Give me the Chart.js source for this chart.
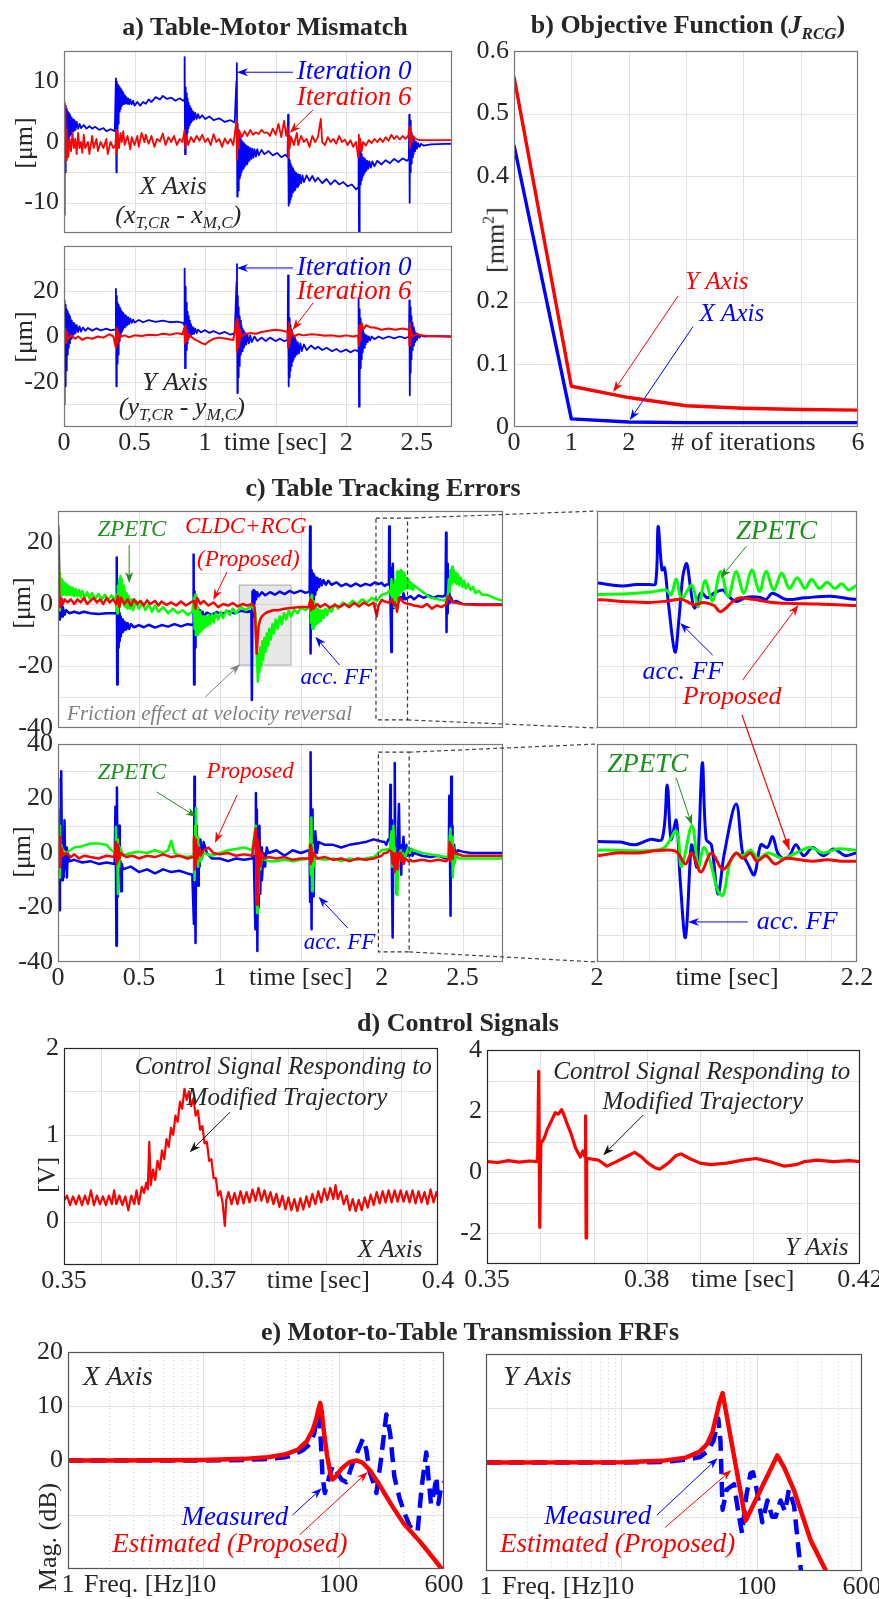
<!DOCTYPE html>
<html>
<head>
<meta charset="utf-8">
<script src="https://cdn.jsdelivr.net/npm/chart.js@4.4.0/dist/chart.umd.min.js"></script>
<style>
body { margin: 0; background: #fff; }
#page { position: relative; width: 879px; height: 1599px; overflow: hidden; background: #fff; }
canvas { position: absolute; z-index: 1; }
.ttl { position: absolute; z-index: 2; font: bold 26px "Liberation Serif"; color: #262626; white-space: nowrap; transform: translate(-50%, -50%); }
.yl { position: absolute; z-index: 2; font: 26px "Liberation Serif"; color: #262626; white-space: nowrap; transform: translate(-50%, -50%) rotate(-90deg); }
.yl sup { font-size: 16px; }
.ttl sub { font-size: 17px; }
svg { position: absolute; left: 0; top: 0; z-index: 3; }
</style>
</head>
<body>
<div id="page">
  <div class="ttl" style="left:265px;top:27px">a) Table-Motor Mismatch</div>
  <div class="ttl" style="left:688px;top:27px">b) Objective Function (<i>J<sub>RCG</sub></i>)</div>
  <div class="ttl" style="left:383px;top:488px">c) Table Tracking Errors</div>
  <div class="ttl" style="left:458px;top:1023px">d) Control Signals</div>
  <div class="ttl" style="left:470px;top:1332px">e) Motor-to-Table Transmission FRFs</div>
  <div class="yl" style="left:24px;top:143px">[μm]</div>
  <div class="yl" style="left:24px;top:337px">[μm]</div>
  <div class="yl" style="left:495px;top:240px">[mm<sup>2</sup>]</div>
  <div class="yl" style="left:22px;top:603px">[μm]</div>
  <div class="yl" style="left:22px;top:852px">[μm]</div>
  <div class="yl" style="left:47px;top:1175px">[V]</div>
  <div class="yl" style="left:48px;top:1537px">Mag. (dB)</div>
</div>
<script>
// ---------- a) table-motor mismatch, [time s, µm] ----------
const aXIter0 = [[0,0],[0.003,-12],[0.006,6.5],[0.009,-5],[0.012,6],[0.015,-2],[0.018,5.5],[0.021,-1],[0.024,5],[0.027,0],[0.03,4.8],[0.034,0.5],[0.038,4.5],[0.042,1],[0.046,4.2],[0.05,1.3],[0.055,4],[0.06,1.6],[0.065,3.7],[0.07,1.8],[0.076,3.5],[0.082,2],[0.09,3.3],[0.1,2.2],[0.11,3],[0.12,2.3],[0.14,2.8],[0.16,2.2],[0.18,2.6],[0.2,2.2],[0.22,2.5],[0.25,2],[0.28,2.3],[0.3,1.8],[0.33,2.1],[0.36,1.8],
  [0.368,10.5],[0.371,-5],[0.374,10],[0.377,1],[0.38,9.5],[0.383,3],[0.386,9.3],[0.389,4],[0.392,9],[0.395,5],[0.398,8.8],[0.402,5.5],[0.406,8.5],[0.41,6],[0.414,8.2],[0.418,6.2],[0.422,8],[0.427,6.3],[0.432,7.7],[0.437,6.4],[0.442,7.4],[0.448,6.3],[0.455,7.2],[0.462,6.2],[0.47,7],[0.48,6.2],[0.49,6.8],[0.5,6],[0.52,6.6],[0.54,6],[0.56,6.6],[0.58,6.3],[0.6,7],[0.62,6.6],[0.65,7.4],[0.68,7],[0.7,7.6],[0.73,7.1],[0.76,7.3],[0.79,6.8],[0.82,7.2],[0.845,6.8],
  [0.852,7],[0.855,14],[0.858,-2],[0.861,9],[0.864,-1],[0.867,8],[0.87,0.5],[0.873,7.2],[0.876,1.5],[0.879,6.5],[0.883,2.3],[0.887,6],[0.891,2.8],[0.895,5.6],[0.9,3.2],[0.905,5.3],[0.91,3.5],[0.916,5],[0.922,3.7],[0.93,4.8],[0.94,3.8],[0.95,4.6],[0.96,3.9],[0.98,4.4],[1.0,3.8],[1.03,4.2],[1.06,3.6],[1.1,3.9],[1.14,3.3],[1.18,3.6],[1.21,3.2],
  [1.222,10],[1.225,13],[1.228,-9],[1.231,3],[1.234,-8],[1.237,1.5],[1.24,-7],[1.243,1],[1.246,-6],[1.249,0.5],[1.252,-5.5],[1.255,0.3],[1.258,-5],[1.262,0],[1.266,-4.6],[1.27,-0.2],[1.274,-4.3],[1.278,-0.4],[1.282,-4],[1.287,-0.5],[1.292,-3.7],[1.297,-0.7],[1.302,-3.4],[1.308,-0.8],[1.314,-3.1],[1.32,-1],[1.327,-2.8],[1.334,-1.1],[1.342,-2.6],[1.35,-1.2],[1.36,-2.4],[1.37,-1.2],[1.38,-2.2],[1.4,-1.3],[1.42,-2],[1.45,-1.5],[1.48,-2.2],[1.51,-1.8],[1.54,-2.5],[1.57,-2.1],[1.585,-2.5],
  [1.588,4.5],[1.591,-10.5],[1.594,-2],[1.597,-10],[1.6,-3],[1.603,-9.5],[1.606,-3.5],[1.609,-9],[1.612,-4],[1.615,-8.6],[1.619,-4.3],[1.623,-8.3],[1.627,-4.6],[1.631,-8],[1.636,-4.9],[1.641,-7.7],[1.646,-5.1],[1.652,-7.4],[1.658,-5.3],[1.665,-7.1],[1.672,-5.4],[1.68,-6.8],[1.69,-5.5],[1.7,-6.6],[1.72,-5.5],[1.74,-6.4],[1.76,-5.6],[1.78,-6.5],[1.8,-5.9],[1.83,-6.8],[1.86,-6.1],[1.89,-7],[1.92,-6.3],[1.95,-7],[1.98,-6.6],[2.01,-7.3],[2.04,-7],[2.07,-7.8],[2.085,-7.5],
  [2.088,-1],[2.091,-15],[2.094,-0.5],[2.097,-8],[2.1,-1.5],[2.103,-7],[2.106,-2],[2.109,-6.3],[2.112,-2.3],[2.116,-5.8],[2.12,-2.6],[2.124,-5.4],[2.128,-2.8],[2.133,-5],[2.138,-3],[2.144,-4.7],[2.15,-3.1],[2.157,-4.4],[2.165,-3.2],[2.175,-4.2],[2.185,-3.2],[2.2,-4],[2.22,-3.1],[2.25,-3.7],[2.28,-3],[2.31,-3.5],[2.34,-2.8],[2.37,-3.3],[2.4,-2.7],[2.43,-3.1],[2.444,-2.8],
  [2.447,4.5],[2.45,-10],[2.453,3.5],[2.456,-5],[2.459,2.5],[2.462,-3.5],[2.465,1.5],[2.469,-2.5],[2.473,0.8],[2.478,-2],[2.483,0.3],[2.489,-1.5],[2.495,0],[2.502,-1.1],[2.51,-0.2],[2.52,-0.8],[2.53,-0.3],[2.55,-0.6],[2.6,-0.4],[2.7,-0.3],[2.75,-0.3]];
const aXIter6 = [[0,0],[0.004,-5],[0.01,6],[0.015,-3],[0.02,2],[0.03,-2.5],[0.04,0.5],[0.05,-1.5],[0.06,1.5],[0.07,-1],[0.08,0.5],[0.09,-2],[0.1,1.5],[0.11,-1],[0.12,0],[0.13,-1.8],[0.14,1.2],[0.15,-1],[0.17,0],[0.18,-2],[0.2,1],[0.21,-1],[0.23,0.5],[0.24,-1.5],[0.26,0],[0.28,-1],[0.3,0.5],[0.31,-2],[0.33,0],[0.35,-1],[0.365,-0.5],
  [0.37,2],[0.375,-2],[0.38,1.5],[0.39,-1],[0.4,1.5],[0.41,0],[0.42,1.8],[0.43,-0.5],[0.45,1],[0.47,-1.2],[0.48,0.8],[0.5,-0.5],[0.52,1],[0.53,-0.8],[0.55,1.5],[0.57,0],[0.58,1.2],[0.6,-0.3],[0.62,1],[0.64,-0.8],[0.66,0.5],[0.68,0.1],[0.7,1.4],[0.72,-0.5],[0.74,0.8],[0.76,0],[0.78,1],[0.8,-0.5],[0.82,0.5],[0.84,0],
  [0.855,2],[0.86,-1],[0.87,1],[0.88,-0.5],[0.9,0.8],[0.92,0],[0.94,1],[0.96,0.2],[0.98,1.2],[1.0,0],[1.02,0.6],[1.04,-0.5],[1.06,1.3],[1.08,0],[1.1,0.5],[1.12,-0.8],[1.14,0.6],[1.16,-0.3],[1.18,0.5],[1.2,-0.5],
  [1.222,3.5],[1.226,-3],[1.23,1],[1.235,-1],[1.24,2],[1.26,0.8],[1.28,1.8],[1.3,1],[1.32,2],[1.34,1.2],[1.36,1.6],[1.38,1.3],[1.4,2],[1.42,1.5],[1.44,1.6],[1.46,1],[1.48,2.2],[1.5,1.2],[1.52,3],[1.54,0.8],[1.56,3.5],[1.575,1],
  [1.585,2.5],[1.59,-2.5],[1.595,1],[1.6,-1],[1.61,0.8],[1.63,-0.5],[1.65,1.5],[1.66,-0.5],[1.68,1],[1.7,0],[1.72,0.5],[1.74,-0.8],[1.76,1],[1.78,0],[1.8,0.8],[1.82,3.8],[1.83,0],[1.85,-0.5],[1.87,0.8],[1.89,0],[1.91,0.5],[1.93,-0.3],[1.95,1],[1.97,0],[1.99,0.4],[2.01,-0.5],[2.03,0.3],[2.05,-0.8],[2.07,0],
  [2.085,-2.5],[2.09,1.2],[2.095,-1.5],[2.1,0.5],[2.11,-1.5],[2.12,0],[2.14,-0.6],[2.16,0.3],[2.18,-0.2],[2.2,0.5],[2.22,0],[2.24,0.6],[2.26,0],[2.28,0.8],[2.3,0.2],[2.32,1.2],[2.34,0.5],[2.36,1],[2.38,0.4],[2.4,1],[2.42,0.5],[2.44,1],
  [2.448,2.5],[2.452,-1],[2.457,2],[2.465,0],[2.475,1],[2.49,0.5],[2.52,0.3],[2.6,0.3],[2.75,0.3]];
const aYIter0 = [[0,0],[0.003,-30],[0.006,16],[0.009,-22],[0.012,14],[0.015,-15],[0.018,12],[0.021,-11],[0.024,11],[0.027,-8],[0.03,10],[0.034,-5],[0.038,9],[0.042,-3],[0.046,8],[0.05,-1],[0.055,7],[0.06,0],[0.065,6],[0.07,1],[0.076,5.5],[0.082,1.5],[0.09,5],[0.1,2],[0.11,4.5],[0.12,2.2],[0.135,4],[0.15,2.5],[0.17,3.8],[0.2,2.6],[0.23,3.6],[0.26,2.7],[0.3,3.5],[0.33,2.7],[0.365,3.2],
  [0.368,21],[0.371,-22],[0.374,18],[0.377,-12],[0.38,15],[0.383,-8],[0.386,14],[0.389,-5],[0.392,13],[0.395,-2],[0.398,12],[0.402,0],[0.406,11],[0.41,2],[0.414,10.5],[0.418,3],[0.422,10],[0.427,4],[0.432,9.5],[0.437,4.5],[0.442,9],[0.448,5],[0.455,8.5],[0.462,5.5],[0.47,8],[0.48,6],[0.49,7.5],[0.5,6.2],[0.53,7.3],[0.56,6.3],[0.6,7.2],[0.65,6.5],[0.7,7],[0.75,6.3],[0.8,6.6],[0.845,6],
  [0.852,5],[0.855,30],[0.858,-14],[0.861,22],[0.864,-10],[0.867,15],[0.87,-6],[0.873,11],[0.876,-3],[0.88,9],[0.884,-1],[0.888,7],[0.892,0],[0.896,5.5],[0.9,0.5],[0.905,4.5],[0.91,1],[0.916,4],[0.922,1.2],[0.93,3.5],[0.94,1.5],[0.95,3],[0.97,1.8],[1.0,2.8],[1.03,1.6],[1.06,2.4],[1.1,1.2],[1.14,2],[1.18,0.8],[1.21,1.5],
  [1.223,24],[1.226,32],[1.229,-25],[1.232,18],[1.235,-18],[1.238,13],[1.241,-13],[1.244,9],[1.247,-10],[1.25,7],[1.254,-8],[1.258,5],[1.262,-6.5],[1.266,3.5],[1.27,-5],[1.275,2.5],[1.28,-4],[1.286,1.5],[1.292,-3.5],[1.3,1],[1.31,-3],[1.32,0.5],[1.33,-2.5],[1.35,0],[1.37,-2],[1.4,-0.5],[1.43,-2],[1.46,-0.5],[1.5,-2],[1.53,-1],[1.56,-2],[1.585,-1.5],
  [1.588,27],[1.591,-22],[1.594,12],[1.597,-18],[1.6,8],[1.603,-15],[1.606,5],[1.61,-13],[1.614,3],[1.618,-11],[1.622,1],[1.627,-10],[1.632,-0.5],[1.637,-9],[1.643,-1.5],[1.65,-8],[1.657,-2.5],[1.665,-7.5],[1.675,-3],[1.685,-6.5],[1.7,-3.5],[1.72,-6],[1.75,-4],[1.78,-5.5],[1.8,-4.5],[1.83,-6],[1.86,-5],[1.9,-6.5],[1.93,-5.5],[1.96,-6.8],[2.0,-5.8],[2.03,-7],[2.06,-6],[2.085,-6.5],
  [2.088,17],[2.091,-31],[2.094,12],[2.097,-20],[2.1,8],[2.103,-14],[2.106,5],[2.11,-10],[2.114,3],[2.118,-7],[2.122,2],[2.127,-5],[2.132,1],[2.138,-3.5],[2.145,0.5],[2.152,-2.5],[2.16,0],[2.17,-1.8],[2.18,0],[2.2,-1.2],[2.23,0],[2.26,-1],[2.3,0],[2.34,-0.8],[2.38,0],[2.42,-0.8],[2.445,0],
  [2.448,16],[2.451,-26],[2.454,13],[2.457,-16],[2.46,9],[2.463,-10],[2.467,6],[2.471,-6],[2.475,4],[2.48,-4],[2.485,2.5],[2.49,-2.5],[2.496,1.5],[2.502,-1.5],[2.51,1],[2.52,-0.5],[2.53,0.5],[2.55,0],[2.6,0.2],[2.75,0]];
const aYIter6 = [[0,0],[0.004,4],[0.008,-3],[0.012,3],[0.016,-2],[0.02,2],[0.03,-1],[0.05,0.5],[0.08,-1],[0.1,0],[0.13,-1.5],[0.16,-0.5],[0.2,-1],[0.24,0],[0.28,-0.5],[0.32,1],[0.35,0],
  [0.368,-5],[0.372,4],[0.376,-3],[0.38,3],[0.385,-2],[0.39,1],[0.4,0],[0.43,0.5],[0.46,-0.3],[0.5,0.5],[0.55,0.2],[0.6,0.8],[0.65,0.5],[0.7,1.2],[0.75,0.8],[0.8,1.5],[0.84,1],
  [0.853,4],[0.857,-3],[0.861,5],[0.865,-2],[0.87,3],[0.876,-1],[0.885,1],[0.9,0],[0.92,-1],[0.95,-2],[0.98,-3],[1.0,-3.5],[1.03,-2],[1.06,-1],[1.1,-0.5],[1.15,-1],[1.2,-1.5],
  [1.222,7],[1.226,-7],[1.23,8],[1.234,-5],[1.238,6],[1.243,-3],[1.25,3],[1.26,0],[1.28,1],[1.32,1.5],[1.36,1.2],[1.4,2],[1.45,2.5],[1.5,3],[1.55,2.5],[1.585,2],
  [1.588,-5],[1.592,6],[1.596,-3],[1.6,4],[1.606,-1],[1.615,2],[1.63,0],[1.66,1],[1.7,0.5],[1.75,1],[1.8,0.8],[1.85,0.3],[1.9,0.5],[1.95,0],[2.0,0.5],[2.05,0],[2.085,0.5],
  [2.09,-4],[2.094,5],[2.098,-2],[2.103,4],[2.11,6],[2.12,3],[2.14,5],[2.17,4],[2.2,4],[2.25,3],[2.3,3.5],[2.35,3],[2.4,3.5],[2.445,3],
  [2.448,-4],[2.452,6],[2.456,-2],[2.46,3],[2.47,0],[2.5,1],[2.55,0.3],[2.75,0]];
const aTickX = [0, 0.5, 1, 1.5, 2, 2.5];
const aTickXText = ['0', '0.5', '1', 'time [sec]', '2', '2.5'];
const aGridX = [0.5, 1, 1.5, 2, 2.5];
const aTopTickY = [-10, 0, 10];
const aTopGridY = [-10, -5, 0, 5, 10];
const aBotTickY = [-20, 0, 20];
const aBotGridY = [-30, -20, -10, 0, 10, 20, 30];

// ---------- b) objective function ----------
const bIterations = [0, 1, 2, 3, 4, 5, 6];
const bYAxis = [0.559, 0.065, 0.047, 0.034, 0.030, 0.028, 0.027];
const bXAxis = [0.45, 0.013, 0.008, 0.007, 0.007, 0.007, 0.007];
const bTickX = [0, 1, 2, 4, 6];
const bTickXText = ['0', '1', '2', '# of iterations', '6'];
const bTickY = [0, 0.1, 0.2, 0.4, 0.5, 0.6];
const bGridX = [1, 2, 3, 4, 5];
const bGridY = [0.1, 0.2, 0.3, 0.4, 0.5];

// ---------- c) table tracking errors, [time s, µm] ----------
const cXAccFF = [[0,0],[0.004,24],[0.008,-5],[0.012,8],[0.016,-4],[0.02,2],[0.025,-4],[0.03,-1],[0.04,-3.5],[0.05,-2],[0.07,-3],[0.1,-2.5],[0.13,-3],[0.16,-2.5],[0.2,-3],[0.25,-3.2],[0.3,-3],[0.35,-3],[0.36,-3],
  [0.363,15],[0.366,-26],[0.369,3],[0.372,-14],[0.375,-1],[0.378,-12],[0.381,-3],[0.384,-10.5],[0.388,-4],[0.392,-9.5],[0.396,-5],[0.4,-9],[0.405,-5.5],[0.41,-8.5],[0.416,-6],[0.422,-8.2],[0.43,-6.2],[0.44,-8],[0.45,-6.5],[0.47,-7.5],[0.5,-6.8],[0.53,-7.5],[0.56,-6.7],[0.6,-7.6],[0.64,-6.8],[0.68,-7.3],[0.72,-6.5],[0.76,-7.2],[0.8,-6.5],[0.835,-6.8],
  [0.838,16],[0.841,-26],[0.844,4],[0.847,-14],[0.85,0],[0.853,-10],[0.857,-1],[0.861,-7],[0.866,-1.5],[0.872,-5.5],[0.878,-2],[0.885,-4.5],[0.893,-2.5],[0.9,-4],[0.92,-2.8],[0.95,-3.5],[0.98,-2.6],[1.01,-3.2],[1.05,-2.4],[1.09,-3],[1.13,-2.2],[1.17,-2.6],[1.195,-2.2],
  [1.198,-31],[1.202,4],[1.206,-4],[1.21,4.5],[1.214,0],[1.218,4],[1.224,1.5],[1.23,3.8],[1.24,2.5],[1.26,3.8],[1.28,2.8],[1.31,3.8],[1.34,3],[1.37,4],[1.4,3.2],[1.43,4.2],[1.46,3.5],[1.5,4.3],[1.53,3.6],[1.555,4],
  [1.558,25],[1.561,-16],[1.564,11],[1.567,-7],[1.57,10],[1.573,-2],[1.577,9.5],[1.581,1],[1.585,9],[1.59,3],[1.595,8.5],[1.6,4.5],[1.606,8.2],[1.613,5.5],[1.62,8],[1.63,6],[1.64,7.7],[1.655,6.2],[1.67,7.5],[1.69,6.2],[1.72,7],[1.75,5.8],[1.78,6.5],[1.81,5.7],[1.84,6.6],[1.87,5.8],[1.9,6.5],[1.93,6],[1.96,7],[1.98,6.4],
  [2.0,6.8],[2.01,6.2],[2.02,5.8],[2.03,6.3],[2.04,6.3],[2.045,6.5],[2.047,25],[2.05,11],[2.052,11.7],[2.055,0],[2.06,-15.5],[2.063,-5],[2.066,8.8],[2.069,13],[2.072,5],[2.075,-1.3],[2.08,3.6],[2.085,2],[2.09,3.5],[2.097,4.5],[2.1,3],[2.107,0.8],[2.115,2.2],[2.125,2.2],[2.13,1.5],[2.135,3.5],[2.145,1.5],[2.16,2],[2.18,2.5],[2.2,1.5],
  [2.23,2.8],[2.26,2],[2.29,2.8],[2.32,2],[2.35,2.6],[2.38,2.4],[2.395,3],
  [2.398,23],[2.401,-9],[2.404,13],[2.407,-3],[2.41,7],[2.414,0],[2.418,4],[2.423,0.5],[2.43,2],[2.44,0.5],[2.46,1],[2.5,0],[2.6,-0.2],[2.75,-0.2]];
const cXZpetc = [[0,0],[0.004,25],[0.008,-2],[0.012,10],[0.016,2],[0.02,8],[0.024,3],[0.028,7.5],[0.032,3],[0.036,7],[0.04,3.5],[0.045,6.5],[0.05,3],[0.055,6.2],[0.06,3],[0.066,5.8],[0.072,3],[0.078,5.5],[0.085,2.8],[0.092,5.2],[0.1,2.6],[0.11,4.8],[0.12,2.5],[0.13,4.5],[0.14,2.2],[0.15,4.2],[0.165,2],[0.18,3.8],[0.195,1.8],[0.21,3.5],[0.23,1.6],[0.25,3.2],[0.27,1.4],[0.29,3],[0.31,1.2],[0.33,2.8],[0.35,1.2],
  [0.362,3],[0.366,-3],[0.37,6],[0.374,0],[0.378,8],[0.382,1],[0.386,9],[0.39,2],[0.394,8],[0.398,0.5],[0.402,6],[0.407,-0.5],[0.412,4.5],[0.418,-1],[0.424,3.5],[0.43,-1.5],[0.437,2.5],[0.445,-1.5],[0.455,1.5],[0.465,-2],[0.48,1],[0.5,-1.5],[0.52,0.5],[0.54,-2],[0.56,0],[0.58,-2.5],[0.6,-0.5],[0.62,-2.5],[0.65,-1],[0.68,-3],[0.71,-1.5],[0.74,-3],[0.77,-2],[0.8,-3.5],[0.83,-2.5],
  [0.84,2],[0.844,-8],[0.848,3],[0.852,-10],[0.856,0],[0.86,-10],[0.864,-1],[0.868,-9.5],[0.872,-2.5],[0.877,-9],[0.882,-3.5],[0.887,-8.5],[0.892,-4],[0.898,-8],[0.904,-4],[0.91,-7.5],[0.917,-4],[0.925,-7],[0.933,-3.5],[0.942,-6.5],[0.952,-3.5],[0.962,-6],[0.975,-3],[0.99,-5],[1.005,-2.5],[1.02,-4.5],[1.04,-2],[1.06,-3.5],[1.08,-1.5],[1.1,-3],[1.13,-1],[1.16,-2],[1.2,-0.5],
  [1.22,-3],[1.228,-15],[1.235,-25],[1.24,-16],[1.245,-22],[1.25,-14],[1.256,-20],[1.262,-12],[1.268,-18],[1.275,-11],[1.282,-15.5],[1.29,-9.5],[1.298,-13.5],[1.306,-8],[1.315,-11.5],[1.325,-6.5],[1.335,-9.5],[1.345,-5],[1.357,-8],[1.37,-4],[1.383,-6.5],[1.397,-3],[1.41,-5],[1.425,-2.3],[1.44,-4],[1.46,-1.8],[1.48,-3],[1.5,-1.2],[1.53,-2],[1.555,-0.8],
  [1.56,2],[1.564,-6],[1.568,3],[1.572,-8],[1.576,1],[1.58,-8],[1.584,0],[1.588,-7],[1.593,-1],[1.598,-6.5],[1.604,-1.5],[1.61,-6],[1.617,-2],[1.625,-5.5],[1.633,-2],[1.642,-4.5],[1.652,-1.5],[1.663,-3.5],[1.675,-1],[1.69,-2.5],[1.71,0],[1.73,-1.5],[1.76,0.5],[1.79,-0.5],[1.82,1],[1.85,0],[1.88,1.5],[1.91,0.5],[1.94,2],[1.97,1],
  [2.0,3],[2.02,3.2],[2.04,3.8],[2.053,4.5],[2.057,3],[2.061,8],[2.065,1.8],[2.073,6],[2.078,-0.9],[2.083,7.5],[2.089,1],[2.095,10.5],[2.101,2.4],[2.107,10.5],[2.113,3.5],[2.119,11],[2.125,4],[2.13,10.5],[2.136,4.5],[2.142,10],[2.148,5],[2.154,8.5],[2.16,5],[2.165,8],[2.171,5],[2.177,7],[2.183,5],[2.188,6.5],[2.194,4.5],[2.2,6],
  [2.25,4],[2.3,2],[2.35,1.5],[2.39,1],
  [2.41,3],[2.415,8],[2.42,4],[2.425,11],[2.43,6],[2.435,12],[2.44,7],[2.446,11],[2.452,7],[2.458,10],[2.465,6.5],[2.472,9.5],[2.48,6],[2.49,8.5],[2.5,5.5],[2.51,7.5],[2.52,5],[2.535,6.5],[2.55,4.5],[2.565,5.5],[2.58,3.5],[2.6,4.3],[2.62,3],[2.65,3],[2.7,1.8],[2.75,1]];
const cXProposed = [[0,0],[0.004,22],[0.008,2],[0.012,-1],[0.02,1.5],[0.03,0],[0.04,1.5],[0.06,0.5],[0.08,1.5],[0.1,0],[0.12,1.5],[0.14,0.5],[0.16,2],[0.18,0],[0.2,1],[0.22,2],[0.24,0.5],[0.26,1.5],[0.28,0],[0.3,2],[0.32,0.5],[0.34,1.5],[0.36,0],
  [0.37,2.5],[0.38,-1],[0.39,2],[0.41,0],[0.43,1.5],[0.45,-0.5],[0.47,1.5],[0.49,0],[0.51,1],[0.53,-0.5],[0.55,1.2],[0.57,0],[0.6,1],[0.62,-0.5],[0.64,0.8],[0.67,-0.3],[0.7,0.5],[0.73,-0.5],[0.76,0.8],[0.79,-0.5],[0.82,0.5],[0.84,1],
  [0.85,-1.5],[0.86,2],[0.88,0],[0.9,1],[0.93,-0.5],[0.96,0.5],[0.99,-1],[1.02,0],[1.05,-0.5],[1.08,0.3],[1.11,-0.8],[1.14,0],[1.17,-0.5],[1.2,0],
  [1.215,-1],[1.228,-16],[1.235,-10],[1.24,-7],[1.25,-5],[1.26,-4],[1.28,-3],[1.3,-2.5],[1.33,-2],[1.36,-2],[1.4,-1.5],[1.45,-1.2],[1.5,-1],[1.55,-1],
  [1.56,1.5],[1.565,-2],[1.57,1],[1.58,-1.5],[1.6,0],[1.62,-1],[1.65,0],[1.68,-1.2],[1.71,-0.3],[1.74,-1],[1.77,0],[1.8,-1],[1.83,0.3],[1.86,-0.8],[1.89,0.5],[1.92,-0.5],[1.95,0.5],[1.97,-4],[1.98,-0.5],
  [2.0,1.3],[2.02,0.8],[2.04,0.5],[2.055,1],[2.065,1.5],[2.075,-0.3],[2.082,0.5],[2.09,-0.5],[2.095,-2.5],[2.105,1],[2.11,2],[2.12,1.5],[2.135,0.5],[2.15,0.2],[2.17,0],[2.2,-0.5],
  [2.25,-1],[2.28,0],[2.31,-1.5],[2.34,-0.5],[2.37,-1],[2.4,0],[2.41,2.5],[2.43,1],[2.45,0.5],[2.5,0],[2.6,-0.3],[2.75,-0.3]];
const cYAccFF = [[0,0],[0.004,27],[0.008,-21],[0.012,8],[0.016,-5],[0.02,30],[0.025,-10],[0.03,5],[0.035,-9],[0.04,12],[0.045,-6],[0.05,2],[0.055,-9],[0.06,0],[0.07,-3],[0.1,-2.5],[0.15,-3.5],[0.2,-3],[0.25,-4],[0.3,-3.5],[0.35,-4],
  [0.355,17],[0.358,-5],[0.361,-34],[0.364,24],[0.367,-2],[0.37,-16],[0.374,5],[0.378,10],[0.382,-8],[0.386,-3],[0.39,-14],[0.395,-4],[0.4,-6],[0.45,-5],[0.5,-7],[0.55,-6],[0.6,-7.5],[0.65,-6],[0.7,-7],[0.75,-6.5],[0.8,-7.5],[0.83,-8],
  [0.84,-26],[0.843,28],[0.846,-5],[0.85,-33],[0.854,10],[0.858,-10],[0.862,5],[0.866,-12],[0.87,3],[0.875,-5],[0.88,5],[0.89,-2],[0.9,4],[0.92,0],[0.95,-2],[1.0,-2],[1.05,-3],[1.1,-2],[1.15,-2.5],[1.2,-2],[1.21,-1],
  [1.22,-28],[1.223,22],[1.226,-5],[1.229,16],[1.232,-36],[1.236,5],[1.24,-20],[1.245,10],[1.25,-15],[1.255,2],[1.26,-10],[1.27,0],[1.28,-5],[1.29,2],[1.3,0],[1.35,1],[1.4,-1],[1.45,1],[1.5,0],[1.55,1],[1.555,0],
  [1.558,-18],[1.561,37],[1.564,0],[1.567,-28],[1.57,5],[1.573,16],[1.576,-5],[1.58,-16],[1.585,3],[1.59,8],[1.6,0],[1.61,4],[1.65,3],[1.7,3],[1.75,2],[1.8,3],[1.85,3.5],[1.9,4],[1.95,5],
  [2.0,4.2],[2.018,4],[2.029,3],[2.041,5],[2.05,5],[2.054,25],[2.057,5],[2.061,12],[2.064,-10],[2.068,-31],[2.072,0],[2.073,3],[2.077,-5],[2.081,33],[2.084,5],[2.088,3],[2.093,-15],[2.098,0],[2.107,18],[2.112,0],[2.116,-4],[2.121,-8],[2.126,3],[2.131,2],[2.135,6],[2.139,0],[2.143,-2],[2.148,-1],[2.153,3],[2.159,-1],[2.166,2],[2.174,-1],[2.182,1.5],[2.191,-1],[2.2,0],
  [2.25,-1],[2.3,-1.5],[2.35,-1],[2.4,-2],[2.415,-1],
  [2.418,21],[2.422,0],[2.426,-23],[2.43,28],[2.434,-3],[2.438,10],[2.442,-5],[2.448,3],[2.455,-1],[2.47,1],[2.5,0.5],[2.55,0],[2.75,0]];
const cYZpetc = [[0,0],[0.004,27],[0.008,-9],[0.012,10],[0.016,-3],[0.02,3],[0.03,1],[0.05,0],[0.1,2],[0.15,2.5],[0.2,3.5],[0.25,3.5],[0.3,3],[0.33,1],[0.355,0],
  [0.358,9.5],[0.362,-3],[0.366,5],[0.37,-15],[0.374,3],[0.378,-5],[0.385,2],[0.4,-1],[0.45,0],[0.5,0.5],[0.55,0],[0.6,1],[0.65,0],[0.68,1],[0.7,4.5],[0.72,0],[0.75,-1],[0.8,-1.5],[0.835,-1],
  [0.84,5],[0.844,-10],[0.848,10],[0.852,16.5],[0.856,-2],[0.86,6],[0.865,-5],[0.87,3],[0.88,-3],[0.9,0],[0.95,-1],[1.0,0],[1.05,1],[1.1,1.5],[1.15,2],[1.2,1],
  [1.222,10],[1.226,-5],[1.23,-22],[1.234,-8],[1.238,-15],[1.244,-3],[1.25,-6],[1.26,-2],[1.3,-3],[1.35,-3],[1.4,-2.5],[1.45,-3],[1.5,-2.5],[1.555,-2],
  [1.558,5],[1.562,-8],[1.566,13],[1.57,-14],[1.575,3],[1.58,-5],[1.59,-1],[1.6,-2],[1.65,-2.5],[1.7,-2],[1.75,-3],[1.8,-2],[1.85,-2.5],[1.9,-2],[1.95,-1.5],
  [2.0,1],[2.05,1.5],[2.061,8],[2.065,-5],[2.073,10],[2.078,-5],[2.082,2],[2.087,-3],[2.093,-14],[2.097,-15.5],[2.102,-4],[2.107,0],[2.112,-1],[2.118,1],[2.124,-2],[2.132,0],[2.143,-2],[2.153,0],[2.164,2],[2.174,0],[2.185,1.5],[2.2,1],
  [2.25,0],[2.3,-0.5],[2.35,-1],[2.4,-1.5],[2.415,-1],
  [2.42,5],[2.425,9],[2.43,-3],[2.435,6],[2.44,-9],[2.445,2],[2.45,-4],[2.46,-1],[2.48,-2],[2.5,-2],[2.6,-2],[2.75,-2]];
const cYProposed = [[0,0],[0.004,16],[0.008,-5],[0.012,6],[0.016,-3],[0.02,2],[0.03,-1],[0.05,0],[0.08,-1.5],[0.1,-0.5],[0.13,-2],[0.16,-1],[0.2,-1.5],[0.25,-2],[0.3,-1],[0.35,-1.5],
  [0.358,4],[0.362,-4],[0.366,3],[0.37,-3],[0.375,2],[0.38,-2],[0.39,0],[0.42,-1.5],[0.46,-1],[0.5,-2],[0.55,-1],[0.6,-1.5],[0.65,-0.5],[0.7,-1.5],[0.75,-1],[0.8,-2],[0.835,-1.5],
  [0.84,6],[0.844,-6],[0.848,5],[0.852,-4],[0.856,3],[0.862,-2],[0.87,2],[0.88,-1],[0.9,1],[0.93,2],[0.96,0],[1.0,-0.5],[1.05,0],[1.1,-1],[1.15,-0.5],[1.2,-1],
  [1.222,9],[1.226,-8],[1.23,-19],[1.234,5],[1.238,-12],[1.243,2],[1.25,-5],[1.26,0],[1.27,-2],[1.3,-1.5],[1.35,-2],[1.4,-1.5],[1.45,-2.5],[1.5,-2],[1.555,-2],
  [1.558,3],[1.562,-4],[1.566,2],[1.57,-3],[1.58,0],[1.6,-2],[1.65,-1.5],[1.7,-2.5],[1.75,-2],[1.8,-3],[1.85,-2],[1.9,-2.5],[1.95,-2],
  [2.0,-1],[2.015,0],[2.03,0],[2.05,1],[2.061,0.5],[2.068,-4],[2.073,0],[2.08,-7],[2.088,0],[2.097,-6],[2.107,0],[2.112,-2],[2.118,0],[2.123,-3],[2.13,-1],[2.137,-4],[2.145,-2],[2.156,-2.5],[2.166,-3],[2.177,-2.5],[2.188,-3],[2.2,-3],
  [2.25,-2.5],[2.3,-3],[2.35,-2.5],[2.4,-3],[2.415,-2],
  [2.42,4],[2.425,-3],[2.43,3],[2.435,-2],[2.44,2],[2.45,0],[2.5,-1],[2.6,-1],[2.75,-1]];
const cTickX = [0, 0.5, 1, 1.5, 2, 2.5];
const cTickXText = ['0', '0.5', '1', 'time [sec]', '2', '2.5'];
const cGridX = [0.5, 1, 1.5, 2, 2.5];
const cTopTickY = [-40, -20, 0, 20];
const cTopGridY = [-30, -20, -10, 0, 10, 20];
const cBotTickY = [-40, -20, 0, 20, 40];
const cBotGridY = [-30, -20, -10, 0, 10, 20, 30];
const cZoomTickX = [2, 2.1, 2.2];
const cZoomTickXText = ['2', 'time [sec]', '2.2'];
const cZoomGridX = [2.02, 2.04, 2.06, 2.08, 2.1, 2.12, 2.14, 2.16, 2.18];

// ---------- d) control signals, [time s, V] ----------
const dXSignal = [[0.35,0.24],[0.3504,0.3],[0.3508,0.19],[0.3512,0.29],[0.3516,0.2],[0.352,0.3],[0.3524,0.19],[0.3528,0.3],[0.3532,0.2],[0.3536,0.36],[0.354,0.19],[0.3544,0.3],[0.3548,0.2],[0.3552,0.29],[0.3556,0.19],[0.356,0.3],[0.3564,0.2],[0.3567,0.36],[0.357,0.2],[0.3574,0.3],[0.3578,0.19],[0.3582,0.29],[0.3586,0.13],[0.359,0.3],[0.3594,0.2],[0.3597,0.36],[0.36,0.2],[0.3602,0.3],
  [0.3604,0.4],[0.3607,0.33],[0.361,0.45],[0.3612,0.37],[0.3614,0.92],[0.3616,0.42],[0.3619,0.6],[0.3622,0.48],[0.3625,0.7],[0.3628,0.6],[0.3631,0.82],[0.3634,0.72],[0.3637,0.95],[0.364,0.86],[0.3643,1.08],[0.3646,1.0],[0.3649,1.22],[0.3652,1.15],[0.3655,1.38],[0.3658,1.3],[0.3661,1.53],[0.3664,1.4],[0.3667,1.5],[0.367,1.33],[0.3673,1.42],[0.3676,1.22],[0.3679,1.28],[0.3682,1.06],[0.3685,1.1],[0.3688,0.9],[0.3691,0.92],[0.3694,0.7],[0.3697,0.72],[0.37,0.5],[0.3703,0.5],[0.3706,0.3],[0.3709,0.35],[0.3712,0.22],[0.3715,-0.05],[0.3717,0.25],
  [0.372,0.34],[0.3724,0.2],[0.3728,0.33],[0.3732,0.2],[0.3736,0.35],[0.374,0.21],[0.3744,0.34],[0.3748,0.22],[0.3752,0.37],[0.3756,0.24],[0.376,0.39],[0.3764,0.24],[0.3768,0.36],[0.3772,0.22],[0.3776,0.34],[0.378,0.2],[0.3784,0.32],[0.3788,0.17],[0.3792,0.3],[0.3796,0.14],[0.38,0.28],[0.3804,0.13],[0.3808,0.26],[0.3812,0.12],[0.3816,0.27],[0.382,0.14],[0.3824,0.29],[0.3828,0.17],[0.3832,0.32],[0.3836,0.2],[0.384,0.35],[0.3844,0.22],[0.3848,0.38],[0.3852,0.25],[0.3856,0.39],[0.386,0.26],[0.3863,0.42],[0.3866,0.26],[0.387,0.35],[0.3874,0.2],[0.3878,0.3],[0.3882,0.13],[0.3886,0.26],[0.389,0.12],[0.3894,0.25],[0.3898,0.13],[0.3902,0.28],[0.3906,0.16],[0.391,0.31],[0.3914,0.19],[0.3918,0.34],[0.3922,0.21],[0.3926,0.35],[0.393,0.22],[0.3934,0.36],[0.3938,0.22],[0.3942,0.36],[0.3946,0.23],[0.395,0.36],[0.3954,0.23],[0.3958,0.35],[0.3962,0.22],[0.3966,0.36],[0.397,0.21],[0.3974,0.35],[0.3978,0.22],[0.3982,0.34],[0.3986,0.2],[0.399,0.37],[0.3994,0.22],[0.3998,0.34],[0.4,0.28]];
const dYSignal = [[0.35,0.35],[0.352,0.32],[0.354,0.38],[0.356,0.33],[0.358,0.37],[0.3595,0.35],[0.3597,3.3],[0.3599,-1.8],[0.3601,0.95],[0.3607,1.1],[0.3613,1.4],[0.362,1.65],[0.3628,1.95],[0.3634,1.9],[0.364,2.05],[0.3645,1.85],[0.365,1.6],[0.3657,1.3],[0.3666,0.8],[0.3675,0.5],[0.368,0.7],[0.3684,0.5],[0.3685,1.85],[0.3686,-2.15],[0.3687,0.4],[0.369,0.45],
  [0.3709,0.4],[0.3725,0.2],[0.3743,0.35],[0.376,0.5],[0.3777,0.65],[0.379,0.5],[0.3802,0.3],[0.3815,0.15],[0.3824,0.1],[0.384,0.3],[0.3855,0.55],[0.3864,0.6],[0.388,0.45],[0.39,0.3],[0.392,0.25],[0.395,0.3],[0.398,0.4],[0.4005,0.45],[0.403,0.35],[0.4058,0.2],[0.408,0.25],[0.4096,0.35],[0.412,0.4],[0.415,0.35],[0.418,0.38],[0.42,0.35]];
const dXTickX = [0.35, 0.37, 0.384, 0.4];
const dXTickXText = ['0.35', '0.37', 'time [sec]', '0.4'];
const dXTickY = [0, 1, 2];
const dXGridX = [0.355, 0.36, 0.365, 0.37, 0.375, 0.38, 0.385, 0.39, 0.395];
const dXGridY = [0, 0.5, 1, 1.5];
const dYTickX = [0.35, 0.38, 0.398, 0.42];
const dYTickXText = ['0.35', '0.38', 'time [sec]', '0.42'];
const dYTickY = [-2, 0, 2, 4];
const dYGridX = [0.36, 0.37, 0.38, 0.39, 0.4, 0.41];
const dYGridY = [-2, -1, 0, 1, 2, 3];

// ---------- e) transmission FRFs, [freq Hz, dB] ----------
const eXMeasured = [[1,0],[5,0],[10,0],[20,0.1],[30,0.3],[40,0.6],[46,1],[55,2],[61,3],[66,5],[69,8],[71,8.5],[73,6],[76,-3],[79,-6],[83,-4],[90,-1],[96,-2],[105,-3.5],[114,-4],[125,-1],[140,2],[151,4],[160,2],[169,-2],[180,-4],[190,-6],[205,0],[225,8.5],[240,5],[258,-3],[282,-7],[310,-10],[334,-12],[360,-13],[383,-13],[410,-5],[444,1.5],[460,-3],[481,-8],[505,-6],[527,-3],[545,-8],[570,-5],[600,-4]];
const eXEstimated = [[1,0],[2,0],[5,0.05],[10,0.1],[20,0.3],[30,0.6],[40,1.1],[50,2],[58,3.5],[64,5.5],[68,7.5],[71,9.5],[73,10.6],[75,9],[78,5],[82,1],[87,-2.5],[90,-3.5],[95,-3],[105,-1.5],[120,-0.3],[135,0],[150,-0.4],[170,-1.8],[200,-4.5],[250,-8.5],[300,-11.5],[400,-15],[500,-18],[600,-20.5]];
const eYMeasured = [[1,0],[10,0],[20,0.1],[30,0.5],[38,1],[43,2],[48,4],[50,6],[52,8.1],[54,4],[56,-8.7],[60,-5],[68,-4],[74,-10],[78,-13],[84,-6],[90,-2],[94,-1.8],[100,-5],[110,-11],[120,-7],[130,-10],[138,-10],[150,-7],[162,-9],[173,-5],[189,-8],[205,-16.6],[215,-21]];
const eYEstimated = [[1,0],[10,0.05],[20,0.3],[30,0.9],[38,2],[43,3.4],[47,5.5],[50,8.3],[53,11],[56,12.8],[83,-10.7],[142,1.3],[160,-1],[189,-5.2],[251,-14.4],[341,-21]];
const eTickX = [1, 3.3, 10, 100, 600];
const eTickXText = ['1', 'Freq. [Hz]', '10', '100', '600'];
const eTickY = [0, 10, 20];
const eGridX = [10, 100];
const eGridXMinor = [2, 3, 4, 5, 6, 7, 8, 9, 20, 30, 40, 50, 60, 70, 80, 90, 200, 300, 400, 500];
const eGridY = [-10, 0, 10];

// ---------------------------------------------------------------
const BLUE = '#0000ff', RED = '#ff0000', GREEN = '#00ff00', DKGREEN = '#1f8f1f', INK = '#262626', GRAY = '#808080';
const FONT = '"Liberation Serif"';
Chart.defaults.font.family = FONT;
Chart.defaults.font.size = 26;
Chart.defaults.color = INK;

const page = document.getElementById('page');
const decoMap = new Map();

function drawText(ctx, x, y, s, color, size, align) {
  const segs = typeof s === 'string' ? [[s]] : s;
  const fonts = segs.map(g => 'italic ' + (g[1] ? Math.round(size * 0.65) : size) + 'px ' + FONT);
  let w = 0;
  segs.forEach((g, i) => { ctx.font = fonts[i]; w += ctx.measureText(g[0]).width; });
  let cx = align === 'center' ? x - w / 2 : align === 'right' ? x - w : x;
  ctx.fillStyle = color; ctx.textBaseline = 'middle'; ctx.textAlign = 'left';
  segs.forEach((g, i) => {
    ctx.font = fonts[i];
    ctx.fillText(g[0], cx, y + (g[1] ? size * 0.3 : 0));
    cx += ctx.measureText(g[0]).width;
  });
}

function drawArrow(ctx, x0, y0, x1, y1, c) {
  const ang = Math.atan2(y1 - y0, x1 - x0), h = 11, w = 4;
  const ca = Math.cos(ang), sa = Math.sin(ang);
  ctx.strokeStyle = c; ctx.fillStyle = c; ctx.lineWidth = 1; ctx.setLineDash([]);
  ctx.beginPath(); ctx.moveTo(x0, y0); ctx.lineTo(x1 - h * 0.7 * ca, y1 - h * 0.7 * sa); ctx.stroke();
  ctx.beginPath(); ctx.moveTo(x1, y1);
  ctx.lineTo(x1 - h * ca + w * sa, y1 - h * sa - w * ca);
  ctx.lineTo(x1 - h * 0.7 * ca, y1 - h * 0.7 * sa);
  ctx.lineTo(x1 - h * ca - w * sa, y1 - h * sa + w * ca);
  ctx.closePath(); ctx.fill();
}

const decoPlugin = {
  id: 'deco',
  beforeDatasetsDraw(chart) {
    const d = decoMap.get(chart.canvas); if (!d) return;
    const ctx = chart.ctx, a = chart.chartArea, sx = chart.scales.x, sy = chart.scales.y;
    ctx.save();
    ctx.beginPath(); ctx.rect(a.left, a.top, a.right - a.left, a.bottom - a.top); ctx.clip();
    ctx.lineWidth = 1;
    if (d.gxMinor) {
      ctx.strokeStyle = '#cfcfcf'; ctx.setLineDash([1, 3]);
      d.gxMinor.forEach(v => { const x = Math.round(sx.getPixelForValue(v)) + 0.5; ctx.beginPath(); ctx.moveTo(x, a.top); ctx.lineTo(x, a.bottom); ctx.stroke(); });
      ctx.setLineDash([]);
    }
    ctx.strokeStyle = '#e3e3e3';
    (d.gx || []).forEach(v => { const x = Math.round(sx.getPixelForValue(v)) + 0.5; ctx.beginPath(); ctx.moveTo(x, a.top); ctx.lineTo(x, a.bottom); ctx.stroke(); });
    (d.gy || []).forEach(v => { const y = Math.round(sy.getPixelForValue(v)) + 0.5; ctx.beginPath(); ctx.moveTo(a.left, y); ctx.lineTo(a.right, y); ctx.stroke(); });
    (d.rects || []).filter(r => !r.front).forEach(r => {
      const x0 = sx.getPixelForValue(r.x0), x1 = sx.getPixelForValue(r.x1), y0 = sy.getPixelForValue(r.y0), y1 = sy.getPixelForValue(r.y1);
      ctx.fillStyle = r.fill; ctx.fillRect(x0, y0, x1 - x0, y1 - y0);
      ctx.strokeStyle = r.stroke; ctx.strokeRect(x0, y0, x1 - x0, y1 - y0);
    });
    ctx.restore();
  },
  afterDatasetsDraw(chart) {
    const d = decoMap.get(chart.canvas); if (!d) return;
    const ctx = chart.ctx, a = chart.chartArea, sx = chart.scales.x, sy = chart.scales.y;
    ctx.save();
    (d.rects || []).filter(r => r.front).forEach(r => {
      const x0 = sx.getPixelForValue(r.x0), x1 = sx.getPixelForValue(r.x1), y0 = sy.getPixelForValue(r.y0), y1 = sy.getPixelForValue(r.y1);
      ctx.lineWidth = 1.2; ctx.strokeStyle = r.stroke; ctx.setLineDash(r.dash);
      ctx.strokeRect(x0, y0, x1 - x0, y1 - y0);
    });
    ctx.setLineDash([]);
    ctx.lineWidth = 1.2; ctx.strokeStyle = d.frame;
    ctx.strokeRect(a.left + 0.5, a.top + 0.5, a.right - a.left - 1, a.bottom - a.top - 1);
    (d.arrows || []).forEach(r => drawArrow(ctx, sx.getPixelForValue(r[0]), sy.getPixelForValue(r[1]), sx.getPixelForValue(r[2]), sy.getPixelForValue(r[3]), r[4]));
    (d.texts || []).forEach(t => drawText(ctx, sx.getPixelForValue(t.x), sy.getPixelForValue(t.y), t.s, t.c, t.z, t.a || 'center'));
    ctx.restore();
  }
};
Chart.register(decoPlugin);

function axis(type, pos, min, max, vals, texts, show) {
  return {
    type, position: pos, min, max,
    grid: { display: false, drawTicks: false }, border: { display: false },
    ticks: { display: show, autoSkip: false, maxRotation: 0, minRotation: 0, padding: pos === 'left' ? 5 : 1,
      callback: (v, i) => texts ? texts[i] : String(v) },
    afterBuildTicks: s => { s.ticks = vals.map(v => ({ value: v })); }
  };
}

function series(pairs, color, width, extra) {
  return Object.assign({
    data: pairs.map(p => ({ x: p[0], y: p[1] })),
    borderColor: color, borderWidth: width, pointRadius: 0, fill: false,
    tension: 0, clip: 0, borderJoinStyle: 'round'
  }, extra || {});
}

function plot(box, pad, xs, ys, datasets, deco) {
  const [L, T, R, B] = box, [pl, pt, pr, pb] = pad;
  const cv = document.createElement('canvas');
  cv.width = R - L + pl + pr; cv.height = B - T + pt + pb;
  cv.style.left = (L - pl) + 'px'; cv.style.top = (T - pt) + 'px';
  page.appendChild(cv);
  decoMap.set(cv, deco);
  xs.afterFit = s => { s.height = pb; };
  ys.afterFit = s => { s.width = pl; };
  const ch = new Chart(cv, {
    type: 'line',
    data: { datasets },
    options: {
      responsive: false, animation: false, devicePixelRatio: 1, events: [],
      layout: { padding: { left: 0, top: pt, right: pr, bottom: 0 } },
      plugins: { legend: { display: false }, tooltip: { enabled: false } },
      scales: { x: xs, y: ys }
    }
  });
  ch.$left = L - pl; ch.$top = T - pt;
  return ch;
}

const PAD = [60, 24, 30, 40];
const FRAME = '#777';

// a) top: X axis
plot([64, 51, 452, 233], PAD,
  axis('linear', 'bottom', 0, 2.75, aTickX, aTickXText, false),
  axis('linear', 'left', -15, 15, aTopTickY, null, true),
  [series(aXIter6, RED, 1.8), series(aXIter0, BLUE, 1.8)],
  { frame: FRAME, gx: aGridX, gy: aTopGridY,
    texts: [{ x: 1.65, y: 11.5, s: 'Iteration 0', c: BLUE, z: 27, a: 'left' },
            { x: 1.65, y: 7.2, s: 'Iteration 6', c: RED, z: 27, a: 'left' },
            { x: 0.775, y: -7.4, s: 'X Axis', c: INK, z: 26 },
            { x: 0.81, y: -12.2, s: [['(x'], ['T,CR', 1], [' - x'], ['M,C', 1], [')']], c: INK, z: 26 }],
    arrows: [[1.623, 11.5, 1.226, 11.5, BLUE], [1.765, 5.3, 1.6, 1.5, RED]] });

// a) bottom: Y axis
plot([64, 246, 452, 427], PAD,
  axis('linear', 'bottom', 0, 2.75, aTickX, aTickXText, true),
  axis('linear', 'left', -40, 40, aBotTickY, null, true),
  [series(aYIter6, RED, 2), series(aYIter0, BLUE, 1.8)],
  { frame: FRAME, gx: aGridX, gy: aBotGridY,
    texts: [{ x: 1.65, y: 30.3, s: 'Iteration 0', c: BLUE, z: 27, a: 'left' },
            { x: 1.65, y: 19.7, s: 'Iteration 6', c: RED, z: 27, a: 'left' },
            { x: 0.787, y: -20.5, s: 'Y Axis', c: INK, z: 26 },
            { x: 0.835, y: -31.6, s: [['(y'], ['T,CR', 1], [' - y'], ['M,C', 1], [')']], c: INK, z: 26 }],
    arrows: [[1.623, 30.3, 1.226, 30.3, BLUE], [1.765, 14.8, 1.62, 2.9, RED]] });

// b) objective function
plot([514, 51, 858, 427], PAD,
  axis('linear', 'bottom', 0, 6, bTickX, bTickXText, true),
  axis('linear', 'left', 0, 0.6, bTickY, null, true),
  [series(bIterations.map((k, i) => [k, bYAxis[i]]), RED, 3.4),
   series(bIterations.map((k, i) => [k, bXAxis[i]]), BLUE, 3.4)],
  { frame: FRAME, gx: bGridX, gy: bGridY,
    texts: [{ x: 3.54, y: 0.23, s: 'Y Axis', c: RED, z: 25 },
            { x: 3.8, y: 0.179, s: 'X Axis', c: BLUE, z: 25 }],
    arrows: [[2.86, 0.209, 1.73, 0.056, RED], [3.12, 0.16, 2.02, 0.011, BLUE]] });

// c) top: X axis
const cTop = plot([58, 511, 503, 728], PAD,
  axis('linear', 'bottom', 0, 2.75, cTickX, cTickXText, false),
  axis('linear', 'left', -40, 30, cTopTickY, null, true),
  [series(cXProposed, RED, 2.5), series(cXZpetc, GREEN, 2.5), series(cXAccFF, BLUE, 2.5)],
  { frame: FRAME, gx: cGridX, gy: cTopGridY,
    rects: [{ x0: 1.12, x1: 1.44, y0: 6.1, y1: -19.7, fill: 'rgba(190,190,190,0.35)', stroke: '#a8a8a8' },
            { x0: 1.965, x1: 2.16, y0: 27.7, y1: -37.4, stroke: '#333', dash: [4, 3], front: true }],
    texts: [{ x: 0.457, y: 23.9, s: 'ZPETC', c: DKGREEN, z: 23 },
            { x: 1.16, y: 24.8, s: 'CLDC+RCG', c: RED, z: 23 },
            { x: 1.176, y: 14.2, s: '(Proposed)', c: RED, z: 23 },
            { x: 0.056, y: -35.8, s: 'Friction effect at velocity reversal', c: GRAY, z: 21, a: 'left' },
            { x: 1.72, y: -23.9, s: 'acc. FF', c: BLUE, z: 23 }],
    arrows: [[0.44, 19, 0.44, 6.8, DKGREEN], [1.044, 10.3, 0.96, 1.3, RED], [0.91, -30, 1.125, -19.4, GRAY], [1.74, -19.7, 1.59, -10.6, BLUE]] });

const cTopZoom = plot([597, 511, 857, 728], [20, 24, 30, 40],
  axis('linear', 'bottom', 2, 2.2, cZoomTickX, cZoomTickXText, false),
  axis('linear', 'left', -40, 30, cTopTickY, null, false),
  [series(cXProposed, RED, 3, { tension: 0.35 }), series(cXZpetc, GREEN, 3, { tension: 0.35 }), series(cXAccFF, BLUE, 3, { tension: 0.35 })],
  { frame: FRAME, gx: cZoomGridX, gy: cTopGridY,
    texts: [{ x: 2.138, y: 23.2, s: 'ZPETC', c: DKGREEN, z: 27 },
            { x: 2.066, y: -21.9, s: 'acc. FF', c: BLUE, z: 26 },
            { x: 2.104, y: -30, s: 'Proposed', c: RED, z: 26 }],
    arrows: [[2.115, 18.7, 2.095, 8.4, DKGREEN], [2.089, -16.5, 2.064, -6.1, BLUE], [2.112, -24.5, 2.155, -0.3, RED]] });

// c) bottom: Y axis
const cBot = plot([58, 744, 503, 962], PAD,
  axis('linear', 'bottom', 0, 2.75, cTickX, cTickXText, true),
  axis('linear', 'left', -40, 40, cBotTickY, null, true),
  [series(cYProposed, RED, 2.5), series(cYZpetc, GREEN, 2.5), series(cYAccFF, BLUE, 2.5)],
  { frame: FRAME, gx: cGridX, gy: cBotGridY,
    rects: [{ x0: 1.98, x1: 2.17, y0: 37, y1: -36.3, stroke: '#333', dash: [4, 3], front: true }],
    texts: [{ x: 0.457, y: 29.4, s: 'ZPETC', c: DKGREEN, z: 23 },
            { x: 1.187, y: 29.7, s: 'Proposed', c: RED, z: 23 },
            { x: 1.74, y: -33, s: 'acc. FF', c: BLUE, z: 23 }],
    arrows: [[0.61, 22.4, 0.857, 13.2, DKGREEN], [1.107, 21.3, 0.97, 3.7, RED], [1.79, -27.5, 1.61, -16.1, BLUE]] });

const cBotZoom = plot([597, 744, 857, 962], [20, 24, 30, 40],
  axis('linear', 'bottom', 2, 2.2, cZoomTickX, cZoomTickXText, true),
  axis('linear', 'left', -40, 40, cBotTickY, null, false),
  [series(cYProposed, RED, 3, { tension: 0.35 }), series(cYZpetc, GREEN, 3, { tension: 0.35 }), series(cYAccFF, BLUE, 3, { tension: 0.35 })],
  { frame: FRAME, gx: cZoomGridX, gy: cBotGridY,
    texts: [{ x: 2.039, y: 32.3, s: 'ZPETC', c: DKGREEN, z: 27 },
            { x: 2.154, y: -25.3, s: 'acc. FF', c: BLUE, z: 26 }],
    arrows: [[2.061, 27.5, 2.073, 10.3, DKGREEN], [2.116, -25.3, 2.07, -25.3, BLUE]] });

// d) control signals
plot([64, 1048, 438, 1265], PAD,
  axis('linear', 'bottom', 0.35, 0.4, dXTickX, dXTickXText, true),
  axis('linear', 'left', -0.5, 2, dXTickY, null, true),
  [series(dXSignal, RED, 2.2)],
  { frame: INK, gx: dXGridX, gy: dXGridY,
    texts: [{ x: 0.3793, y: 1.78, s: 'Control Signal Responding to', c: INK, z: 25 },
            { x: 0.3798, y: 1.42, s: 'Modified Trajectory', c: INK, z: 25 },
            { x: 0.3936, y: -0.33, s: 'X Axis', c: INK, z: 25 }],
    arrows: [[0.3722, 1.26, 0.3668, 0.8, '#111']] });

plot([487, 1050, 860, 1264], PAD,
  axis('linear', 'bottom', 0.35, 0.42, dYTickX, dYTickXText, true),
  axis('linear', 'left', -3, 4, dYTickY, null, true),
  [series(dYSignal, RED, 3.2)],
  { frame: INK, gx: dYGridX, gy: dYGridY,
    texts: [{ x: 0.3903, y: 3.28, s: 'Control Signal Responding to', c: INK, z: 25 },
            { x: 0.3905, y: 2.27, s: 'Modified Trajectory', c: INK, z: 25 },
            { x: 0.4119, y: -2.5, s: 'Y Axis', c: INK, z: 25 }],
    arrows: [[0.3793, 1.87, 0.3718, 0.56, '#111']] });

// e) FRFs
plot([68, 1352, 444, 1569], [60, 24, 30, 30],
  axis('logarithmic', 'bottom', 1, 600, eTickX, eTickXText, true),
  axis('linear', 'left', -20, 20, eTickY, null, true),
  [series(eXEstimated, RED, 4.5), series(eXMeasured, BLUE, 4.5, { borderDash: [15, 8] })],
  { frame: '#555', gx: eGridX, gxMinor: eGridXMinor, gy: eGridY,
    texts: [{ x: 1.29, y: 15.2, s: 'X Axis', c: INK, z: 27, a: 'left' },
            { x: 17.1, y: -10.6, s: 'Measured', c: BLUE, z: 27 },
            { x: 15.7, y: -15.6, s: 'Estimated (Proposed)', c: RED, z: 27 }],
    arrows: [[45.8, -10, 75, -5.1, BLUE], [51.5, -13.7, 164, -2.1, RED]] });

plot([486, 1354, 862, 1571], [20, 24, 30, 28],
  axis('logarithmic', 'bottom', 1, 600, eTickX, eTickXText, true),
  axis('linear', 'left', -20, 20, eTickY, null, false),
  [series(eYEstimated, RED, 4.5), series(eYMeasured, BLUE, 4.5, { borderDash: [15, 8] })],
  { frame: '#555', gx: eGridX, gxMinor: eGridXMinor, gy: eGridY,
    texts: [{ x: 1.34, y: 15.6, s: 'Y Axis', c: INK, z: 27, a: 'left' },
            { x: 6.7, y: -10, s: 'Measured', c: BLUE, z: 27 },
            { x: 9.4, y: -15.2, s: 'Estimated (Proposed)', c: RED, z: 27 }],
    arrows: [[18.3, -9.7, 51.5, 0.8, BLUE], [21, -12, 65, -1.4, RED]] });

// zoom connectors and the arrow that crosses both insets
const NS = 'http://www.w3.org/2000/svg';
const svg = document.createElementNS(NS, 'svg');
svg.setAttribute('width', 879); svg.setAttribute('height', 1599);
page.appendChild(svg);
function pg(ch, x, y) { return [ch.$left + ch.scales.x.getPixelForValue(x), ch.$top + ch.scales.y.getPixelForValue(y)]; }
function seg(p, q, color, dash) {
  const l = document.createElementNS(NS, 'line');
  l.setAttribute('x1', p[0]); l.setAttribute('y1', p[1]); l.setAttribute('x2', q[0]); l.setAttribute('y2', q[1]);
  l.setAttribute('stroke', color); l.setAttribute('stroke-width', 1.2);
  if (dash) l.setAttribute('stroke-dasharray', dash);
  svg.appendChild(l);
}
seg(pg(cTop, 2.16, 27.7), pg(cTopZoom, 2, 30), '#444', '4 3');
seg(pg(cTop, 2.16, -37.4), pg(cTopZoom, 2, -40), '#444', '4 3');
seg(pg(cBot, 2.17, 37), pg(cBotZoom, 2, 40), '#444', '4 3');
seg(pg(cBot, 2.17, -36.3), pg(cBotZoom, 2, -40), '#444', '4 3');
const pA = pg(cTopZoom, 2.1115, -35.8), pB = pg(cBotZoom, 2.148, 1.1);
seg(pA, pB, RED);
const ang = Math.atan2(pB[1] - pA[1], pB[0] - pA[0]);
const head = document.createElementNS(NS, 'polygon');
const hx = pB[0] - 11 * Math.cos(ang), hy = pB[1] - 11 * Math.sin(ang);
head.setAttribute('points', [pB, [hx + 4 * Math.sin(ang), hy - 4 * Math.cos(ang)], [hx - 4 * Math.sin(ang), hy + 4 * Math.cos(ang)]].map(p => p.join(',')).join(' '));
head.setAttribute('fill', RED);
svg.appendChild(head);
</script>
</body>
</html>
